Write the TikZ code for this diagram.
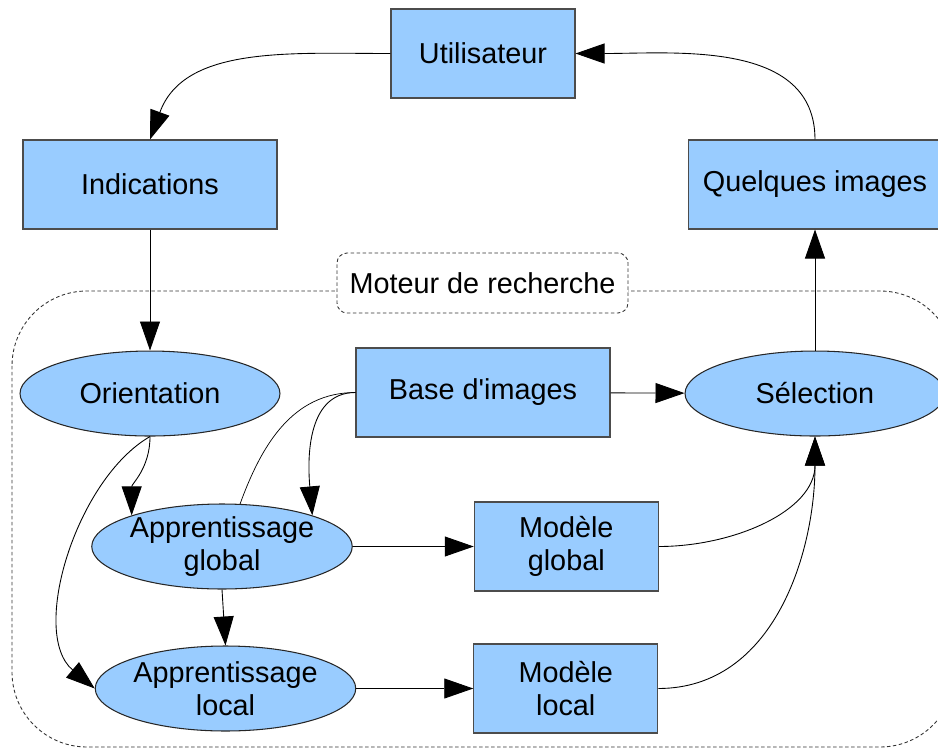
\documentclass[tikz,border=0pt]{standalone}
\usepackage{fontspec}
\setmainfont{Liberation Sans}
\usepackage{tikz}
\usetikzlibrary{positioning,arrows.meta,shapes.geometric}
\definecolor{boxblue}{HTML}{99CCFF}
\tikzset{
  box/.style={draw=black!70, fill=boxblue, line width=0.6pt, align=center, minimum height=1.78cm, inner sep=2pt},
  proc/.style={ellipse, draw=black!85, fill=boxblue, line width=0.6pt, align=center, minimum width=5.2cm, minimum height=1.7cm, inner sep=0pt},
  dashframe/.style={draw=black!80, line width=0.5pt, dash pattern=on 0.07cm off 0.05cm},
  flow/.style={-{Triangle[length=5.8mm,width=4mm]}, line width=0.5pt},
}

\begin{document}
\begin{tikzpicture}[x=0.02cm, y=0.02cm, font=\fontsize{16.4}{18.5}\selectfont]
  \useasboundingbox (0,0) rectangle (938,-748);
  % search engine frame
  \draw[dashframe, rounded corners=1.5cm] (12,-291) rectangle (955,-747);
  \node[dashframe, rounded corners=0.2cm, fill=white, minimum width=5.82cm, minimum height=1.2cm] (engine) at (482.5,-283) {Moteur de recherche};
  % top
  \node[box, minimum width=3.68cm] (user) at (483,-53.5) {Utilisateur};
  \node[box, minimum width=5.08cm] (hints) at (150,-184.5) {Indications};
  \node[box, minimum width=5.08cm] (result) at (815,-184.5) {Quelques images};
  % inside the engine
  \node[proc, below=2.42cm of hints] (orient) {Orientation};
  \node[proc, below=2.42cm of result] (select) {Sélection};
  \node[box, minimum width=5.08cm] (base) at (483,-392.5) {Base d\textquotesingle images};
  \node[proc] (glearn) at (222,-546.5) {Apprentissage\\global};
  \node[proc] (llearn) at (225.5,-688.5) {Apprentissage\\local};
  \node[box, minimum width=3.68cm, right=2.42cm of glearn] (gmodel) {Modèle\\global};
  \node[box, minimum width=3.68cm, right=2.34cm of llearn] (lmodel) {Modèle\\local};
  % arrows
  \draw[flow] (user.west) to[out=180, in=70] (hints.north);
  \draw[flow] (result.north) to[out=90, in=0] (user.east);
  \draw[flow] (hints) -- (orient);
  \draw[flow] (select) -- (result);
  \draw[flow] (base) -- (select);
  \draw[flow] (orient.south) to[out=-90, in=90] (glearn.161);
  \draw[flow] (orient.south) to[out=-150, in=140, looseness=0.85] (llearn.west);
  \draw[flow] (base.west) to[out=180, in=95] (glearn.19);
  \draw (base.west) to[out=180, in=70] (glearn.67);
  \draw[flow] (glearn) -- (gmodel);
  \draw[flow] (glearn.south) -- (llearn.north);
  \draw[flow] (llearn) -- (lmodel);
  \draw[flow] (gmodel.east) to[out=0, in=-90] (select.south);
  \draw[flow] (lmodel.east) to[out=0, in=-90] (select.south);
\end{tikzpicture}
\end{document}
